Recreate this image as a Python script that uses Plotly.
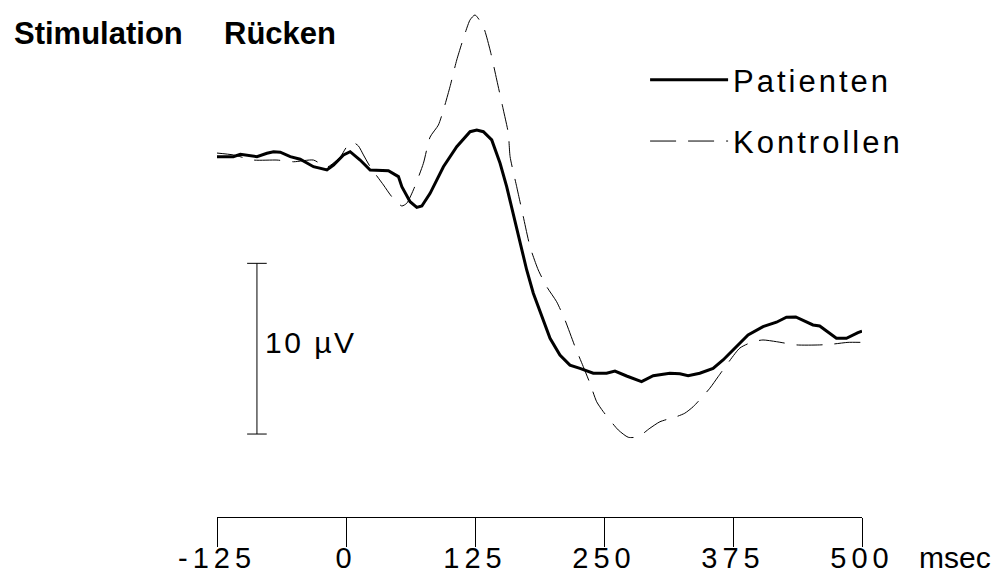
import plotly.graph_objects as go

# ---- data ----
t_pat = [-125, -109.2, -102.4, -96.0, -86.3, -76.6, -70.2, -63.7, -54.0, -44.4, -31.5, -18.5, -12.1,
         -2.4, 4.0, 13.7, 23.4, 41.1, 50.8, 54.1, 62.1, 68.6, 73.5, 81.5, 94.4, 107.3, 120.2, 126.7,
         133.1, 141.2, 149.3, 155.7, 162.1, 168.6, 175.1, 181.5, 189.6, 197.7, 207.3, 217.0, 226.7,
         239.6, 252.5, 260.6, 271.9, 286.4, 297.7, 313.8, 323.5, 331.5, 342.8, 355.7, 365.4, 375.1,
         389.6, 404.1, 417.1, 426.8, 435.8, 452.5, 459.0, 475.2, 484.9, 496.1, 500]
v_pat = [0.02, 0.02, 0.16, 0.12, 0.02, 0.22, 0.31, 0.28, 0.02, -0.13, -0.57, -0.76, -0.47,
         0.12, 0.31, -0.18, -0.76, -0.80, -1.15, -1.74, -2.62, -2.95, -2.87, -2.13, -0.57, 0.60, 1.48, 1.58,
         1.48, 1.00, -0.37, -1.74, -3.30, -5.06, -6.62, -7.98, -9.36, -10.62, -11.60, -12.19, -12.38,
         -12.67, -12.67, -12.54, -12.83, -13.16, -12.81, -12.67, -12.70, -12.81, -12.67, -12.38, -11.89, -11.31,
         -10.43, -9.94, -9.68, -9.39, -9.37, -9.84, -9.90, -10.62, -10.62, -10.29, -10.2]

t_kon = [-125, -109.2, -89.6, -66.9, -50.8, -31.5, -18.5, -5.6, 0.8, 7.2, 12.1, 16.9, 23.4, 36.3,
         44.4, 54.1, 58.9, 65.3, 75.0, 81.5, 89.5, 94.4, 100.8, 107.3, 115.4, 120.2, 125.0, 133.1,
         139.6, 146.1, 152.5, 157.3, 159.0, 165.4, 171.8, 178.3, 186.3, 194.5, 204.1, 212.2, 221.9,
         229.9, 236.4, 242.9, 249.3, 263.8, 273.5, 283.1, 294.5, 304.2, 320.3, 328.3, 336.4, 352.5,
         360.6, 368.7, 381.7, 394.5, 404.1, 417.1, 436.5, 459.0, 471.9, 486.4, 500]
v_kon = [0.23, 0.12, -0.18, -0.18, -0.28, -0.18, -0.59, 0.0, 0.60, 0.84, 0.64, 0.12, -0.57, -1.64,
         -2.33, -2.87, -2.71, -1.93, -0.37, 1.17, 1.87, 2.75, 4.12, 5.68, 7.25, 8.03, 8.32, 7.63,
         6.27, 4.51, 2.75, 1.39, 0.02, -1.74, -3.50, -5.25, -6.62, -7.60, -8.48, -9.55, -11.11,
         -12.28, -13.26, -14.34, -14.92, -15.99, -16.42, -16.39, -15.89, -15.51, -15.21, -15.01, -14.63, -13.55,
         -12.87, -12.19, -11.19, -10.82, -10.72, -10.82, -11.01, -11.01, -10.96, -10.86, -10.86]

tick_vals = [-125, 0, 125, 250, 375, 500]
tick_text = ["-125", "0", "125", "250", "375", "500"]

series_names = ["Patienten", "Kontrollen"]
title_left = "Stimulation"
title_right = "Rücken"
x_unit = "msec"

scale_x = -86.3          # ms position of the calibration bar
scale_bottom = -16.23    # µV
scale_len = 10           # µV
scale_cap = 9.5          # half-width of the caps in ms
scale_label = "10 µV"

FONT = "Liberation Sans, Arial, sans-serif"


def spaced(s, px):
    return '<span style="letter-spacing:%gpx">%s</span>' % (px, s)


fig = go.Figure()

fig.add_trace(go.Scatter(
    x=t_kon, y=v_kon, mode="lines", name=spaced(series_names[1], 3), legendrank=2,
    legendgroup="k",
    line=dict(color="black", width=1, dash="26px,12px", shape="spline", smoothing=0.6),
))
fig.add_trace(go.Scatter(
    x=t_pat, y=v_pat, mode="lines", name=spaced(series_names[0], 3), legendrank=1,
    legendgroup="p",
    line=dict(color="black", width=3),
))

# calibration bar
top = scale_bottom + scale_len
fig.add_trace(go.Scatter(
    x=[scale_x - scale_cap, scale_x + scale_cap, None, scale_x, scale_x, None,
       scale_x - scale_cap, scale_x + scale_cap],
    y=[top, top, None, top, scale_bottom, None, scale_bottom, scale_bottom],
    mode="lines", line=dict(color="black", width=1), showlegend=False, hoverinfo="skip",
))

fig.add_annotation(x=scale_x, y=scale_bottom + scale_len / 2, xref="x", yref="y",
                   text=spaced(scale_label, 2.5), showarrow=False, xanchor="left", yanchor="middle",
                   xshift=6, yshift=6, font=dict(family=FONT, size=30, color="black"))

fig.add_annotation(x=-0.3183, y=0.9546, xref="paper", yref="paper", text="<b>%s</b>" % title_left,
                   showarrow=False, xanchor="left", yanchor="middle",
                   font=dict(family=FONT, size=31, color="black"))
fig.add_annotation(x=0.0073, y=0.9546, xref="paper", yref="paper", text="<b>%s</b>" % title_right,
                   showarrow=False, xanchor="left", yanchor="middle",
                   font=dict(family=FONT, size=31, color="black"))
fig.add_annotation(x=1.0853, y=-0.1154, xref="paper", yref="paper", text=x_unit,
                   showarrow=False, xanchor="left", yanchor="bottom",
                   font=dict(family=FONT, size=30, color="black"))

fig.update_layout(
    width=999, height=576, autosize=False,
    margin=dict(l=217, r=137, t=10, b=59, pad=0),
    paper_bgcolor="white", plot_bgcolor="white",
    showlegend=True,
    legend=dict(x=0.6637, y=0.9150, xanchor="left", yanchor="top",
                font=dict(family=FONT, size=31, color="black"),
                itemwidth=78, tracegroupgap=18, bgcolor="rgba(0,0,0,0)",
                traceorder="grouped"),
    xaxis=dict(range=[-125, 500], showline=True, linecolor="black", linewidth=1,
               ticks="outside", ticklen=29, tickwidth=1, tickcolor="black",
               tickvals=tick_vals, ticktext=[spaced(s, 5) for s in tick_text],
               showgrid=False, zeroline=False, automargin=False, ticklabelstandoff=-14,
               tickfont=dict(family=FONT, size=29, color="black")),
    yaxis=dict(range=[-21.09, 8.61], visible=False, showgrid=False, zeroline=False,
               automargin=False),
)

fig.write_html("out.html")
